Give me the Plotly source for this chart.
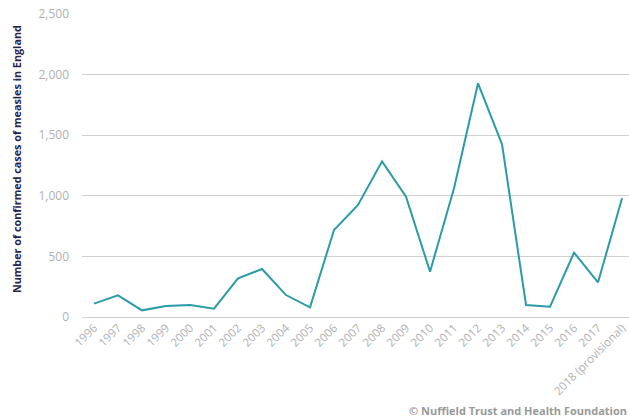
import plotly.graph_objects as go

years = ["1996", "1997", "1998", "1999", "2000", "2001", "2002", "2003", "2004", "2005",
         "2006", "2007", "2008", "2009", "2010", "2011", "2012", "2013", "2014", "2015",
         "2016", "2017", "2018 (provisional)"]
cases = [110, 179, 55, 91, 99, 69, 319, 396, 181, 80,
         718, 924, 1284, 993, 374, 1062, 1928, 1425, 99, 85,
         531, 286, 979]

y_ticks = [0, 500, 1000, 1500, 2000, 2500]
y_tick_labels = ["0", "500", "1,000", "1,500", "2,000", "2,500"]

FONT = "Open Sans, sans-serif"

fig = go.Figure()
fig.add_trace(go.Scatter(
    x=years, y=cases, mode="lines",
    line=dict(color="#2b9ba6", width=2),
    showlegend=False, cliponaxis=False,
))

fig.update_layout(
    width=629, height=419,
    margin=dict(l=82, r=0, t=14, b=102),
    paper_bgcolor="white", plot_bgcolor="white",
    font=dict(family=FONT, size=11, color="#b0b0b0"),
    xaxis=dict(
        type="category",
        range=[-0.5, 22.29],
        automargin=False,
        showgrid=False, showline=False, zeroline=False,
        tickangle=-45,
        tickfont=dict(size=11.5, color="#b0b0b0"),
        ticks="", ticklabelstandoff=1,
    ),
    yaxis=dict(
        range=[0, 2500],
        automargin=False,
        tickvals=y_ticks, ticktext=y_tick_labels,
        showgrid=True, gridcolor="#cfcfcf", gridwidth=1,
        zeroline=True, zerolinecolor="#cfcfcf", zerolinewidth=1,
        showline=False, ticks="",
        tickfont=dict(size=12, color="#b0b0b0"),
        ticklabelstandoff=12,
    ),
    annotations=[
        dict(text="<b>Number of confirmed cases of measles in England</b>",
             xref="paper", yref="paper", x=-0.1207, y=0.521,
             textangle=-90, showarrow=False,
             font=dict(size=10.8, color="#2b2452", family=FONT),
             xanchor="center", yanchor="middle"),
        dict(text="<b>© Nuffield Trust and Health Foundation</b>",
             xref="paper", yref="paper", x=1.0, y=-0.307,
             showarrow=False, xanchor="right", yanchor="middle",
             font=dict(size=11, color="#999999", family=FONT)),
    ],
)

fig.write_html("out.html", config={"displayModeBar": False},
               post_script="document.body.style.margin='0';document.body.style.overflow='hidden';")
